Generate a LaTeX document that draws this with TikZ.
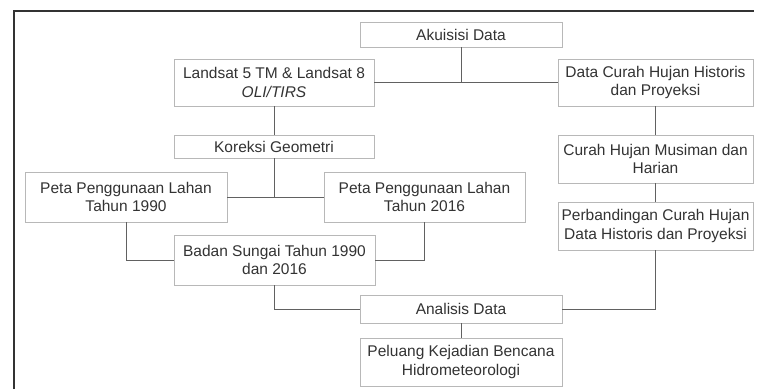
\documentclass[tikz,border=0pt]{standalone}
\usepackage{fontspec}
\setmainfont{Liberation Sans}
\begin{document}
\begin{tikzpicture}[x=1pt,y=-1pt,
  box/.style={draw=black!28, line width=0.9pt, fill=white, text=black!80, align=center,
    inner sep=1pt, font=\fontsize{15.5}{18.5}\selectfont},
  link/.style={draw=black!62, line width=1pt}]
\useasboundingbox (0,0) rectangle (757,389);
\draw[black!80, line width=2pt] (14,389) -- (14,11) -- (754,11);
\node[box, minimum width=202pt, minimum height=25pt] (aku) at (461,34.5) {Akuisisi Data};
\node[box, minimum width=200pt, minimum height=47pt] (land) at (274,82.5) {Landsat 5 TM \& Landsat 8\\\textit{OLI/TIRS}};
\node[box, minimum width=195pt, minimum height=47pt] (curah) at (655.5,82.5) {Data Curah Hujan Historis\\dan Proyeksi};
\node[box, minimum width=200pt, minimum height=23pt] (kor) at (274,146.5) {Koreksi Geometri};
\node[box, minimum width=202pt, minimum height=50pt] (p90) at (126,197) {Peta Penggunaan Lahan\\Tahun 1990};
\node[box, minimum width=201pt, minimum height=50pt] (p16) at (424.5,197) {Peta Penggunaan Lahan\\Tahun 2016};
\node[box, minimum width=201pt, minimum height=50pt] (badan) at (274.5,260) {Badan Sungai Tahun 1990\\dan 2016};
\node[box, minimum width=195pt, minimum height=48pt] (mus) at (655.5,159) {Curah Hujan Musiman dan\\Harian};
\node[box, minimum width=195pt, minimum height=48pt] (band) at (655.5,226) {Perbandingan Curah Hujan\\Data Historis dan Proyeksi};
\node[box, minimum width=202pt, minimum height=28pt] (ana) at (461,309) {Analisis Data};
\node[box, minimum width=202pt, minimum height=48pt] (pel) at (461,362) {Peluang Kejadian Bencana\\Hidrometeorologi};
\coordinate (j1) at (aku.south |- land.east);
\coordinate (j2) at (kor.south |- p90.east);
\draw[link] (aku.south) -- (j1);
\draw[link] (land.east) -- (curah.west);
\draw[link] (land.south) -- (kor.north);
\draw[link] (kor.south) -- (j2);
\draw[link] (p90.east) -- (p16.west);
\draw[link] (p90.south) |- (badan.west);
\draw[link] (p16.south) |- (badan.east);
\draw[link] (badan.south) |- (ana.west);
\draw[link] (curah.south) -- (mus.north);
\draw[link] (mus.south) -- (band.north);
\draw[link] (band.south) |- (ana.east);
\draw[link] (ana.south) -- (pel.north);
\end{tikzpicture}
\end{document}
